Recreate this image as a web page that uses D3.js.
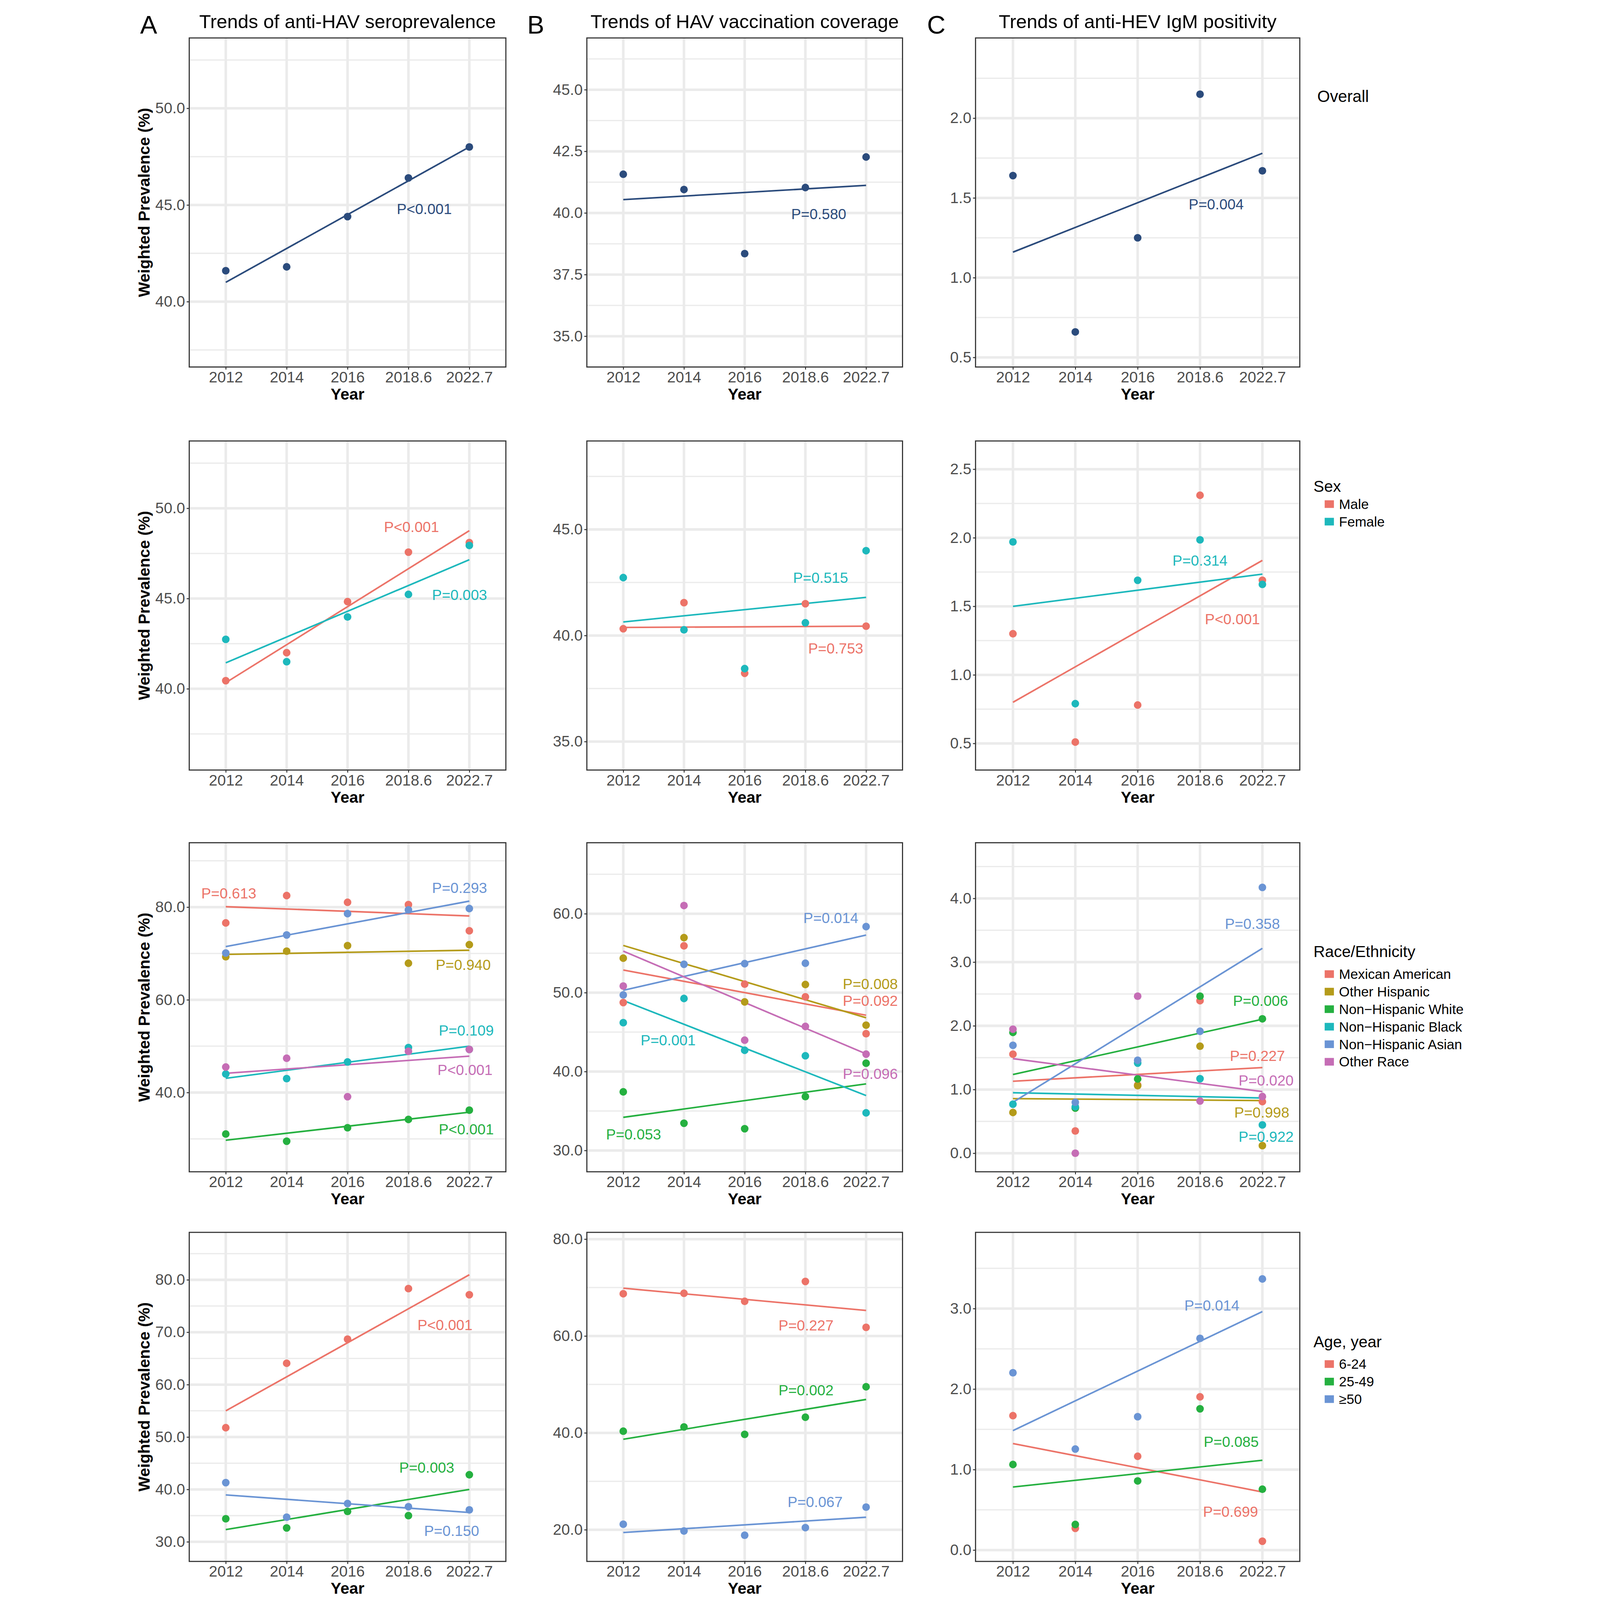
<!DOCTYPE html>
<html><head><meta charset="utf-8">
<script src="https://cdn.jsdelivr.net/npm/d3@7"></script>
<style>html,body{margin:0;padding:0;width:100%;height:100%;overflow:hidden;background:#fff}svg{display:block;font-family:"Liberation Sans",Arial,sans-serif}</style>
</head><body>
<script>
// ---------- data ----------
const years = ["2012","2014","2016","2018.6","2022.7"];
const colTitles = ["Trends of anti-HAV seroprevalence","Trends of HAV vaccination coverage","Trends of anti-HEV IgM positivity"];
const panelLetters = ["A","B","C"];
const sexGroups = ["Male","Female"];
const raceGroups = ["Mexican American","Other Hispanic","Non\u2212Hispanic White","Non\u2212Hispanic Black","Non\u2212Hispanic Asian","Other Race"];
const ageGroups = ["6-24","25-49","\u226550"];

// Row 1: overall
const havOverall = [41.6, 41.8, 44.4, 46.4, 48.0];        const havOverallFit = [41.0, 48.0];
const vacOverall = [41.57, 40.95, 38.35, 41.03, 42.27];   const vacOverallFit = [40.54, 41.12];
const hevOverall = [1.64, 0.66, 1.25, 2.15, 1.67];        const hevOverallFit = [1.16, 1.78];
// Row 2: sex [Male, Female]
const havSex = [[40.45, 42.0, 44.83, 47.57, 48.1],[42.74, 41.5, 43.98, 45.23, 47.94]];
const havSexFit = [[40.34, 48.76],[41.44, 47.15]];
const vacSex = [[40.32, 41.55, 38.22, 41.5, 40.44],[42.73, 40.27, 38.44, 40.6, 44.0]];
const vacSexFit = [[40.38, 40.44],[40.64, 41.8]];
const hevSex = [[1.30, 0.51, 0.78, 2.31, 1.69],[1.97, 0.79, 1.69, 1.985, 1.66]];
const hevSexFit = [[0.80, 1.835],[1.50, 1.735]];
// Row 3: race
const havRace = [[76.6,82.5,81.05,80.55,74.9],[69.3,70.5,71.7,67.9,71.9],[31.05,29.5,32.4,34.2,36.2],[44.0,43.0,46.6,49.7,49.3],[70.1,74.0,78.6,79.4,79.7],[45.5,47.4,39.1,48.9,49.3]];
const havRaceFit = [[80.1,78.1],[69.8,70.7],[29.7,35.75],[43.06,50.0],[71.5,81.3],[44.15,47.85]];
const vacRace = [[48.75,55.93,51.08,49.47,44.8],[54.37,56.97,48.83,51.03,45.88],[37.43,33.45,32.76,36.83,41.06],[46.2,49.26,42.7,42.0,34.77],[49.71,53.6,53.68,53.73,58.37],[50.84,61.04,43.98,45.72,42.21]];
const vacRaceFit = [[52.87,47.14],[55.98,46.82],[34.2,38.44],[49.0,36.96],[50.3,57.3],[55.26,42.24]];
const hevRace = [[1.555,0.35,1.07,2.395,0.81],[0.64,0.71,1.06,1.68,0.12],[1.897,0.71,1.166,2.465,2.11],[0.77,0.73,1.415,1.17,0.445],[1.694,0.80,1.46,1.914,4.173],[1.947,0.0,2.465,0.82,0.89]];
const hevRaceFit = [[1.13,1.345],[0.857,0.827],[1.236,2.103],[0.95,0.867],[0.80,3.216],[1.485,0.967]];
// Row 4: age
const havAge = [[51.78,64.08,68.68,78.33,77.16],[34.4,32.65,35.8,35.0,42.8],[41.3,34.7,37.3,36.7,36.1]];
const havAgeFit = [[55.0,80.97],[32.34,40.0],[38.95,35.6]];
const vacAge = [[68.73,68.82,67.16,71.27,61.79],[40.35,41.22,39.69,43.23,49.52],[21.14,19.74,18.86,20.44,24.67]];
const vacAgeFit = [[69.87,65.28],[38.69,46.9],[19.43,22.58]];
const hevAge = [[1.67,0.27,1.165,1.904,0.11],[1.063,0.318,0.859,1.755,0.756],[2.203,1.255,1.657,2.63,3.368]];
const hevAgeFit = [[1.323,0.722],[0.783,1.116],[1.484,2.963]];

// P-value annotations: [text, series index, position along x (category index), value]
const pA1 = [["P<0.001",0,3.26,44.8]];
const pB1 = [["P=0.580",0,3.22,39.96]];
const pC1 = [["P=0.004",0,3.26,1.46]];
const pA2 = [["P<0.001",0,3.05,48.98],["P=0.003",1,3.84,45.2]];
const pB2 = [["P=0.515",1,3.25,42.73],["P=0.753",0,3.5,39.39]];
const pC2 = [["P=0.314",1,3.0,1.835],["P<0.001",0,3.52,1.406]];
const pA3 = [["P=0.613",0,0.05,82.97],["P=0.293",4,3.84,84.2],["P=0.940",1,3.9,67.6],["P=0.109",3,3.95,53.4],["P<0.001",5,3.93,44.85],["P<0.001",2,3.95,32.1]];
const pB3 = [["P=0.014",4,3.42,59.46],["P=0.008",1,4.07,51.1],["P=0.092",0,4.07,48.96],["P=0.096",5,4.07,39.72],["P=0.001",3,0.74,44.0],["P=0.053",2,0.17,32.06]];
const pC3 = [["P=0.358",4,3.84,3.6],["P=0.006",2,3.97,2.395],["P=0.227",0,3.92,1.528],["P=0.020",5,4.06,1.146],["P=0.998",1,3.99,0.64],["P=0.922",3,4.06,0.26]];
const pA4 = [["P<0.001",0,3.6,71.4],["P=0.003",1,3.3,44.2],["P=0.150",2,3.71,32.1]];
const pB4 = [["P=0.227",0,3.01,62.18],["P=0.002",1,3.01,48.78],["P=0.067",2,3.16,25.76]];
const pC4 = [["P=0.014",2,3.19,3.04],["P=0.085",1,3.5,1.347],["P=0.699",0,3.49,0.478]];

// Axis tick values
const ticksA1=[40,45,50], ticksB1=[35,37.5,40,42.5,45], ticksC1=[0.5,1,1.5,2];
const ticksA2=[40,45,50], ticksB2=[35,40,45], ticksC2=[0.5,1,1.5,2,2.5];
const ticksA3=[40,60,80], ticksB3=[30,40,50,60], ticksC3=[0,1,2,3,4];
const ticksA4=[30,40,50,60,70,80], ticksB4=[20,40,60,80], ticksC4=[0,1,2,3];

// ---------- styling / layout ----------
const overallColor = ["#2B4B7C"];
const sexColors = ["#EC7368","#1DB8BC"];
const raceColors = ["#EC7368","#B49B1A","#25B040","#1DB8BC","#6A94D4","#C56DB5"];
const ageColors = ["#EC7368","#25B040","#6A94D4"];
const cols = [{left:174,w:993},{left:1421,w:990},{left:2640,w:1017}];
const rowTops = [119,1383,2643,3865], PH = 1032;

const panels = [
 {r:0,c:0,s:[havOverall],f:[havOverallFit],col:overallColor,dom:[36.62,53.64],t:ticksA1,p:pA1},
 {r:0,c:1,s:[vacOverall],f:[vacOverallFit],col:overallColor,dom:[33.75,47.1],t:ticksB1,p:pB1},
 {r:0,c:2,s:[hevOverall],f:[hevOverallFit],col:overallColor,dom:[0.44,2.503],t:ticksC1,p:pC1},
 {r:1,c:0,s:havSex,f:havSexFit,col:sexColors,dom:[35.5,53.73],t:ticksA2,p:pA2},
 {r:1,c:1,s:vacSex,f:vacSexFit,col:sexColors,dom:[33.66,49.17],t:ticksB2,p:pB2},
 {r:1,c:2,s:hevSex,f:hevSexFit,col:sexColors,dom:[0.306,2.706],t:ticksC2,p:pC2},
 {r:2,c:0,s:havRace,f:havRaceFit,col:raceColors,dom:[22.9,93.9],t:ticksA3,p:pA3},
 {r:2,c:1,s:vacRace,f:vacRaceFit,col:raceColors,dom:[27.3,69.0],t:ticksB3,p:pB3},
 {r:2,c:2,s:hevRace,f:hevRaceFit,col:raceColors,dom:[-0.291,4.874],t:ticksC3,p:pC3},
 {r:3,c:0,s:havAge,f:havAgeFit,col:ageColors,dom:[26.26,89.06],t:ticksA4,p:pA4},
 {r:3,c:1,s:vacAge,f:vacAgeFit,col:ageColors,dom:[13.46,81.4],t:ticksB4,p:pB4},
 {r:3,c:2,s:hevAge,f:hevAgeFit,col:ageColors,dom:[-0.141,3.947],t:ticksC4,p:pC4}
];

const W=4179,H=5018;
const svg=d3.select("body").append("svg").attr("viewBox",`0 0 ${W} ${H}`)
  .attr("width","100%").attr("height","100%").attr("preserveAspectRatio","xMidYMid meet");
svg.append("rect").attr("width",W).attr("height",H).attr("fill","#fff");

panels.forEach(P=>{
  const L=cols[P.c].left, Wd=cols[P.c].w, T=rowTops[P.r];
  const x=d3.scalePoint().domain(years).range([L,L+Wd]).padding(0.6);
  const y=d3.scaleLinear().domain(P.dom).range([T+PH,T]);
  const g=svg.append("g");
  const step=P.t[1]-P.t[0];
  const minors=[];
  for(let v=P.t[0]-step/2; v<=P.dom[1]; v+=step) if(v>=P.dom[0]) minors.push(v);
  g.selectAll(".mn").data(minors).join("line").attr("x1",L).attr("x2",L+Wd)
   .attr("y1",d=>y(d)).attr("y2",d=>y(d)).attr("stroke","#EBEBEB").attr("stroke-width",4);
  g.selectAll(".mj").data(P.t).join("line").attr("x1",L).attr("x2",L+Wd)
   .attr("y1",d=>y(d)).attr("y2",d=>y(d)).attr("stroke","#EBEBEB").attr("stroke-width",8);
  g.selectAll(".vx").data(years).join("line").attr("x1",d=>x(d)).attr("x2",d=>x(d))
   .attr("y1",T).attr("y2",T+PH).attr("stroke","#EBEBEB").attr("stroke-width",8);
  P.f.forEach((fv,i)=>{
    g.append("line").attr("x1",x(years[0])).attr("x2",x(years[years.length-1]))
     .attr("y1",y(fv[0])).attr("y2",y(fv[1])).attr("stroke",P.col[i]).attr("stroke-width",5);
  });
  P.s.forEach((sv,i)=>{
    g.selectAll(null).data(sv).join("circle").attr("cx",(d,j)=>x(years[j])).attr("cy",d=>y(d))
     .attr("r",12).attr("fill",P.col[i]);
  });
  const st=x.step();
  g.selectAll(null).data(P.p).join("text").attr("x",d=>x(years[0])+d[2]*st).attr("y",d=>y(d[3]))
   .attr("dy","0.35em").attr("text-anchor","middle").attr("font-size",46).attr("fill",d=>P.col[d[1]]).text(d=>d[0]);
  g.append("rect").attr("x",L).attr("y",T).attr("width",Wd).attr("height",PH)
   .attr("fill","none").attr("stroke","#333").attr("stroke-width",3.5);
  const ax=svg.append("g").attr("transform",`translate(0,${T+PH})`)
    .call(d3.axisBottom(x).tickSize(8).tickPadding(6));
  const ay=svg.append("g").attr("transform",`translate(${L},0)`)
    .call(d3.axisLeft(y).tickValues(P.t).tickFormat(d3.format(".1f")).tickSize(8).tickPadding(5));
  [ax,ay].forEach(a=>{
    a.select(".domain").remove();
    a.selectAll(".tick line").attr("stroke","#333").attr("stroke-width",3);
    a.selectAll(".tick text").attr("font-size",48).attr("fill","#4D4D4D").attr("font-family","Liberation Sans, Arial, sans-serif");
  });
  svg.append("text").attr("x",L+Wd/2).attr("y",T+PH+102).attr("text-anchor","middle")
    .attr("font-size",50).attr("font-weight","bold").text("Year");
  if(P.c===0){
    svg.append("text").attr("transform",`translate(50,${T+PH/2}) rotate(-90)`).attr("text-anchor","middle")
      .attr("font-size",50).attr("font-weight","bold").text("Weighted Prevalence (%)");
  }
  if(P.r===0){
    svg.append("text").attr("x",L+Wd/2).attr("y",88).attr("text-anchor","middle").attr("font-size",60).text(colTitles[P.c]);
  }
});
const letterX=[20,1234,2488];
panelLetters.forEach((t,i)=>svg.append("text").attr("x",letterX[i]).attr("y",105).attr("font-size",80).text(t));

svg.append("text").attr("x",3712).attr("y",320).attr("font-size",51).text("Overall");
function legend(title,items,colors,titleY,firstY){
  svg.append("text").attr("x",3700).attr("y",titleY).attr("font-size",50).text(title);
  items.forEach((it,i)=>{
    const cy=firstY+i*55;
    svg.append("rect").attr("x",3735).attr("y",cy-12).attr("width",29).attr("height",24).attr("fill",colors[i]);
    svg.append("text").attr("x",3780).attr("y",cy).attr("dy","0.35em").attr("font-size",43).text(it);
  });
}
legend("Sex",sexGroups,sexColors,1543,1581);
legend("Race/Ethnicity",raceGroups,raceColors,3002,3055);
legend("Age, year",ageGroups,ageColors,4225,4278);
</script>
</body></html>
